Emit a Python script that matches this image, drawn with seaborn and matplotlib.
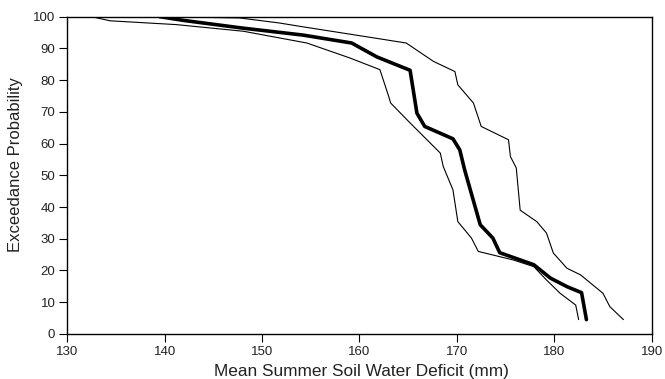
import matplotlib
matplotlib.use("Agg")
import matplotlib.pyplot as plt
import seaborn as sns
import pandas as pd

# Mean (thick) curve
mean_x = [139.5, 142.0, 148.0, 154.2, 159.2, 161.8, 165.2, 165.9, 166.7, 169.6,
          170.3, 170.8, 172.4, 173.7, 174.4, 177.9, 179.6, 181.3, 182.8, 183.3]
mean_y = [100.0, 98.8, 96.4, 94.2, 91.7, 87.3, 83.1, 69.6, 65.4, 61.5,
          58.0, 51.7, 34.4, 30.2, 25.6, 21.8, 17.6, 14.9, 13.0, 4.5]

# Lower bound (left thin) curve
low_x = [132.5, 134.4, 141.2, 148.1, 154.6, 159.0, 162.1, 163.0, 163.2, 165.2,
         168.3, 168.6, 169.6, 170.1, 171.5, 172.2, 175.8, 177.9, 179.2, 180.6,
         182.2, 182.5]
low_y = [100.0, 98.7, 97.5, 95.4, 91.7, 87.0, 83.3, 74.9, 72.8, 66.5,
         57.0, 52.8, 45.4, 35.4, 30.2, 26.0, 23.3, 21.2, 17.0, 12.8,
         9.1, 4.5]

# Upper bound (right thin) curve
up_x = [139.5, 147.7, 151.8, 154.0, 159.0, 164.8, 167.6, 169.8, 170.1, 171.7,
        172.5, 175.3, 175.5, 176.1, 176.5, 178.2, 179.2, 179.9, 181.3, 182.7,
        185.0, 185.7, 187.1]
up_y = [100.0, 99.6, 98.0, 96.9, 94.5, 91.7, 85.9, 82.7, 78.5, 72.8,
        65.4, 61.2, 55.9, 52.3, 39.0, 35.4, 31.8, 25.5, 20.7, 18.6,
        12.8, 8.6, 4.5]

x_ticks = [130, 140, 150, 160, 170, 180, 190]
y_ticks = [0, 10, 20, 30, 40, 50, 60, 70, 80, 90, 100]

sns.set_style("ticks")
plt.rcParams['font.family'] = ['Liberation Sans', 'DejaVu Sans']

df = pd.concat([
    pd.DataFrame({"x": low_x, "y": low_y, "s": "low"}),
    pd.DataFrame({"x": up_x, "y": up_y, "s": "up"}),
    pd.DataFrame({"x": mean_x, "y": mean_y, "s": "mean"}),
])

fig = plt.figure(figsize=(6.65, 3.79), dpi=100)
ax = fig.add_axes([0.101, 0.119, 0.879, 0.837])

sns.lineplot(data=df, x="x", y="y", hue="s", size="s",
             palette={"low": "black", "up": "black", "mean": "black"},
             sizes={"low": 0.8, "up": 0.8, "mean": 2.6},
             sort=False, estimator=None, legend=False, ax=ax)

ax.set_xlim(130, 190)
ax.set_ylim(0, 100)
ax.set_xticks(x_ticks)
ax.set_yticks(y_ticks)
ax.tick_params(axis="both", direction="out", length=6, width=0.8,
               labelsize=9.5, color="black", labelcolor="#222222", pad=2.5)
for sp in ax.spines.values():
    sp.set_visible(True)
    sp.set_color("black")
    sp.set_linewidth(1.0)
ax.set_xlabel("Mean Summer Soil Water Deficit (mm)", fontsize=12.4, color="#222222")
ax.set_ylabel("Exceedance Probability", fontsize=12.0, color="#222222")
ax.xaxis.set_label_coords(0.5026, -0.095)
ax.yaxis.set_label_coords(-0.075, 0.534)

fig.savefig("out.png", dpi=100)
